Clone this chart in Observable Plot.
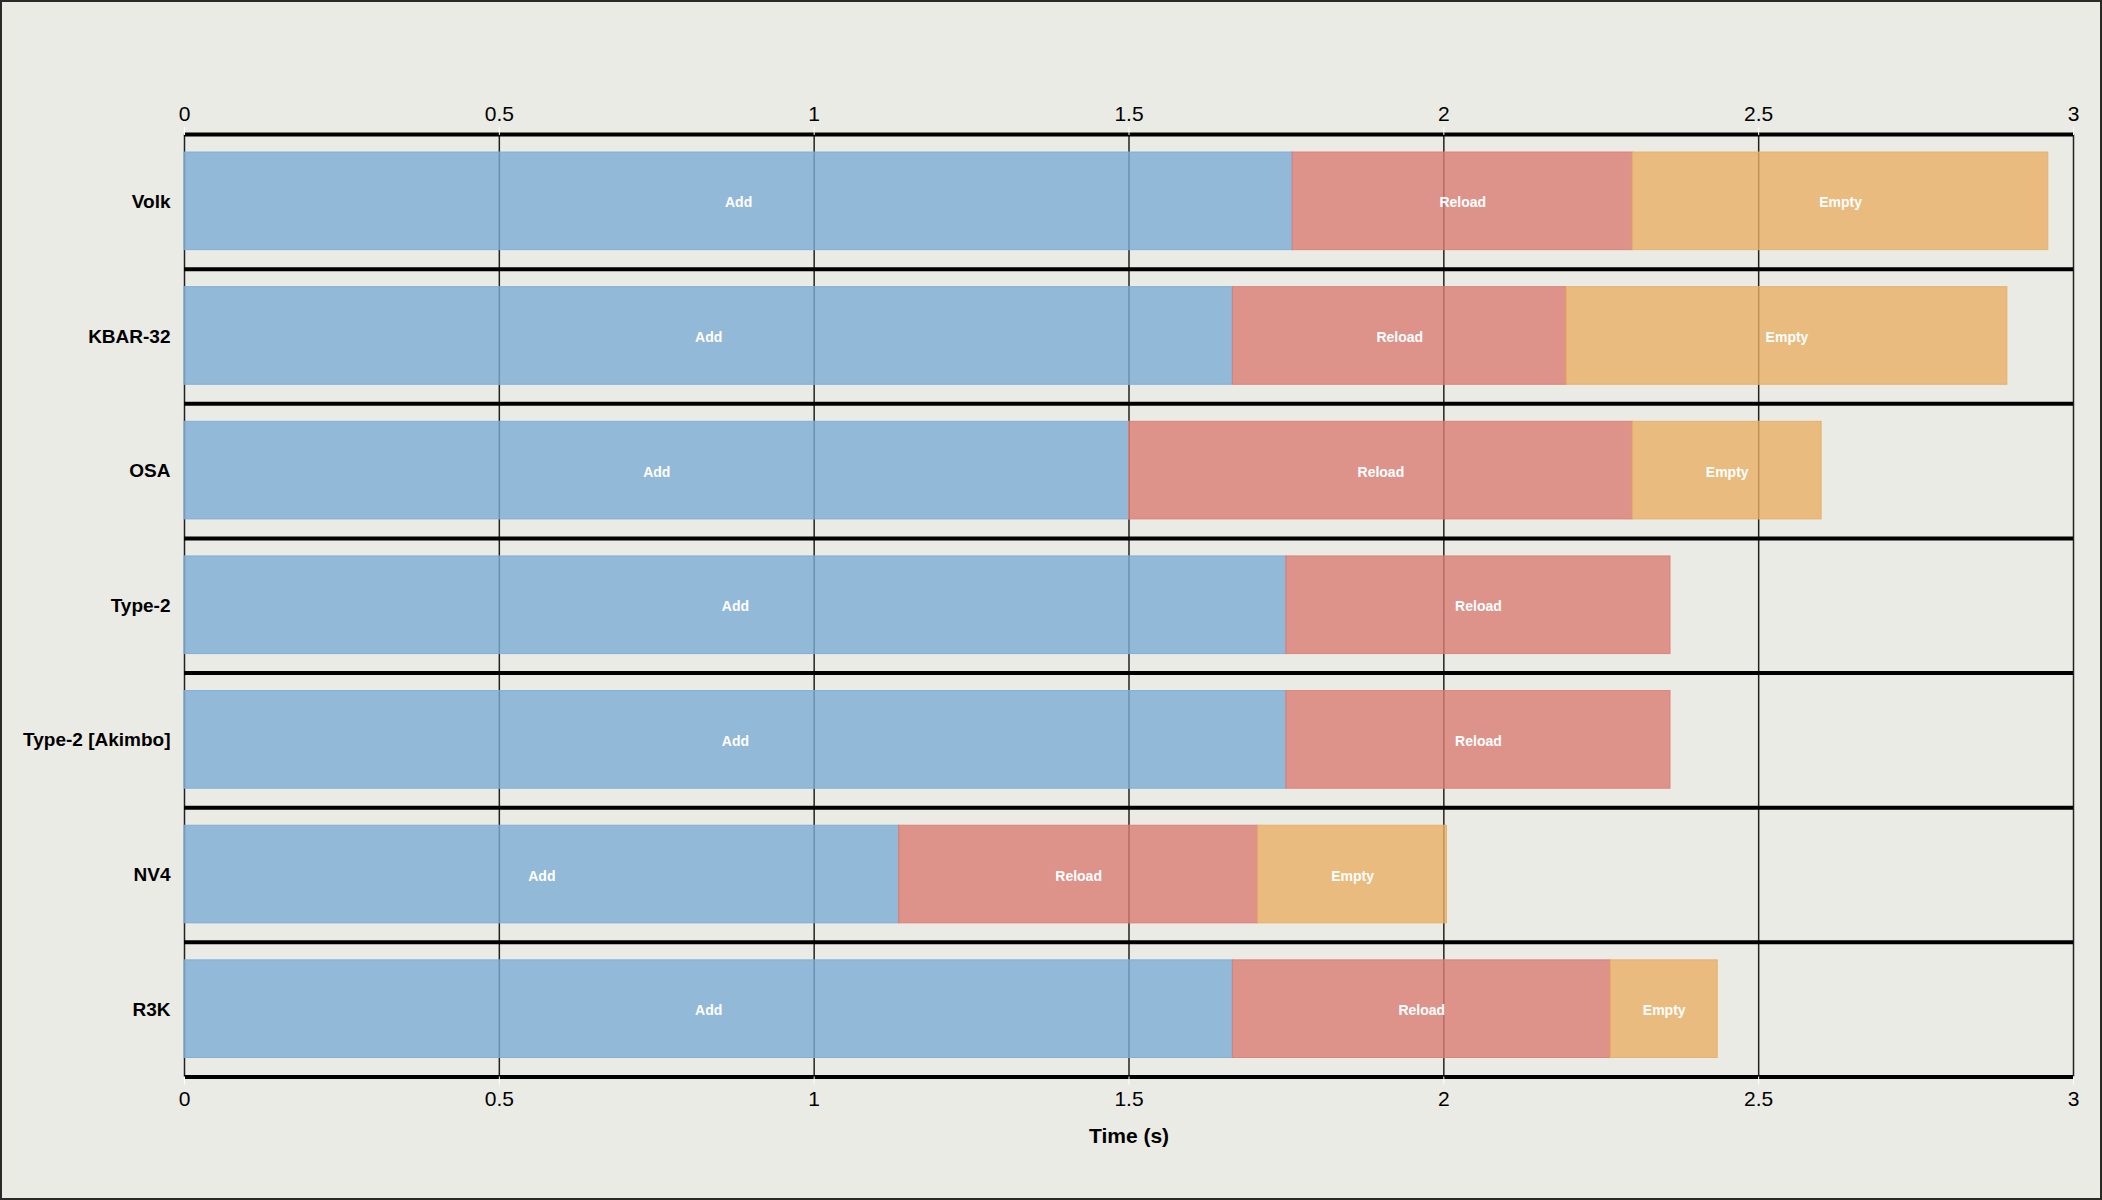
<!DOCTYPE html>
<html>
<head>
<meta charset="utf-8">
<script src="https://cdn.jsdelivr.net/npm/d3@7"></script>
<script src="https://cdn.jsdelivr.net/npm/@observablehq/plot@0.6"></script>
<style>
  html, body { margin: 0; padding: 0; background: #ebebe6; }
  #wrap { position: relative; width: 2102px; height: 1200px; overflow: hidden; background: #ebebe6; }
  #wrap svg { position: absolute; left: 0; top: 0; }
  #border { position: absolute; left: 0; top: 0; width: 2102px; height: 1200px; box-sizing: border-box; border: 2px solid #2a2a2a; pointer-events: none; }
</style>
</head>
<body>
<div id="wrap"><div id="border"></div></div>
<script>
// ---- data ----
const weapons = ["Volk", "KBAR-32", "OSA", "Type-2", "Type-2 [Akimbo]", "NV4", "R3K"];
const phases = ["Add", "Reload", "Empty"];
const addTimes    = [1.76, 1.665, 1.50, 1.75, 1.75, 1.135, 1.665];
const reloadTimes = [0.54, 0.53, 0.80, 0.61, 0.61, 0.57, 0.60];
const emptyTimes  = [0.66, 0.70, 0.30, 0,    0,    0.30, 0.17];
const xTicks = [0, 0.5, 1, 1.5, 2, 2.5, 3];
const xTickLabels = ["0", "0.5", "1", "1.5", "2", "2.5", "3"];
const phaseColors = ["#7dacd4", "#db7d73", "#e8af64"];

const rows = [];
weapons.forEach((w, i) => {
  [addTimes[i], reloadTimes[i], emptyTimes[i]].forEach((v, j) => {
    if (v > 0) rows.push({weapon: w, phase: phases[j], value: v});
  });
});

const W = 2102, H = 1200;
const mTop = 134, mBottom = 123.5, mLeft = 184, mRight = 29;
const bw = (H - mTop - mBottom) / weapons.length;
const font = "'Liberation Sans', Arial, Helvetica, sans-serif";
const fmt = d => xTickLabels[xTicks.indexOf(d)];

const chart = Plot.plot({
  width: W,
  height: H,
  marginTop: mTop,
  marginBottom: mBottom,
  marginLeft: mLeft,
  marginRight: mRight,
  style: {background: "transparent", fontFamily: font, color: "black"},
  x: {domain: [0, 3], ticks: xTicks},
  y: {domain: weapons, padding: 0, round: false},
  color: {domain: phases, range: phaseColors},
  marks: [
    Plot.gridX(xTicks, {stroke: "#222", strokeOpacity: 1, strokeWidth: 1.5}),
    Plot.barX(rows, Plot.stackX({
      x: "value", y: "weapon", fill: "phase", stroke: "phase",
      fillOpacity: 0.8, strokeOpacity: 0.9, strokeWidth: 1,
      insetTop: 18, insetBottom: 19
    })),
    Plot.tickY(weapons, {y: d => d, dy: -bw / 2, stroke: "black", strokeWidth: 4}),
    Plot.tickY([weapons[weapons.length - 1]], {y: d => d, dy: bw / 2, stroke: "black", strokeWidth: 4}),
    Plot.text(rows, Plot.stackX({
      x: "value", y: "weapon", text: "phase",
      fill: "white", fontWeight: "bold", fontSize: 14, dy: 1
    })),
    Plot.axisX({anchor: "top", ticks: xTicks, tickFormat: fmt, tickSize: 8, tickPadding: 6, stroke: "white", fill: "black", fontSize: 21, label: null}),
    Plot.axisX({anchor: "bottom", ticks: xTicks, tickFormat: fmt, tickSize: 8, tickPadding: 6, stroke: "white", fill: "black", fontSize: 21, label: null}),
    Plot.axisY({tickSize: 0, tickPadding: 14, fontSize: 19, fontWeight: "bold", fill: "black", label: null}),
    Plot.text(["Time (s)"], {frameAnchor: "bottom", text: d => d, dy: 59.5, lineAnchor: "middle", fontWeight: "bold", fontSize: 21, fill: "black"})
  ]
});

document.getElementById("wrap").prepend(chart);
</script>
</body>
</html>
